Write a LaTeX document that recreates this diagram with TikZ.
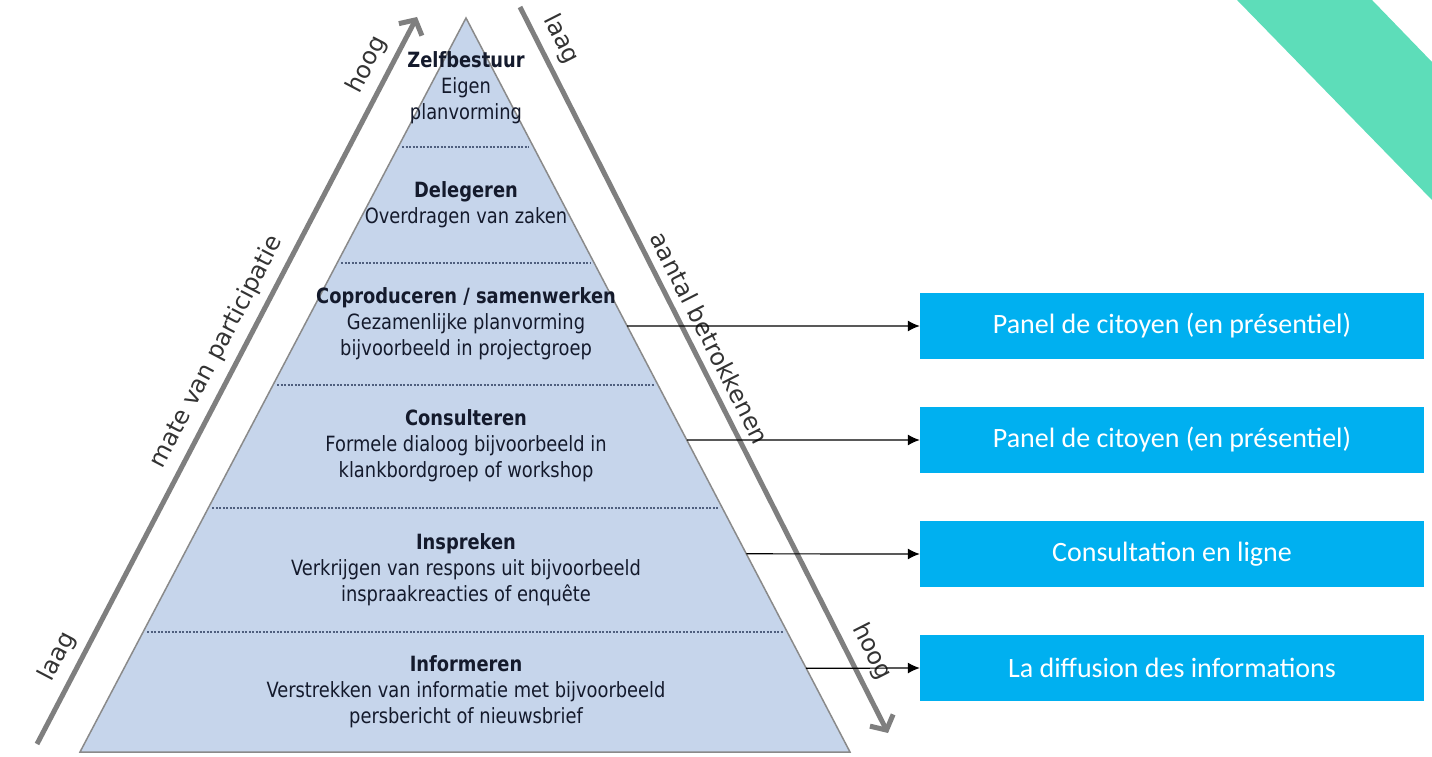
\documentclass[tikz,border=0pt]{standalone}
\usepackage{fontspec}
\setmainfont{DejaVu Sans}
\newfontfamily\pyrfont[FakeStretch=0.85]{DejaVu Sans}
\newfontfamily\boxfont{Carlito}
\usetikzlibrary{arrows.meta,calc,positioning}

\definecolor{pyrfill}{HTML}{C6D5EB}
\definecolor{pyrline}{HTML}{8A8A8A}
\definecolor{sepcol}{HTML}{4F5F7E}
\definecolor{axisgray}{HTML}{7F7F7F}
\definecolor{labelgray}{HTML}{333333}
\definecolor{textnavy}{HTML}{141A2C}
\definecolor{boxblue}{HTML}{00B0F0}
\definecolor{tealband}{HTML}{5DDDB9}

\begin{document}
\begin{tikzpicture}[x=1pt,y=-1pt,
    pyrtext/.style={align=center, text=textnavy, font=\pyrfont\fontsize{21}{26}\selectfont},
    sepline/.style={draw=sepcol, line width=2.5pt, dash pattern=on 2pt off 1.5pt},
    panel/.style={fill=boxblue, text=white, minimum width=504pt, minimum height=66pt, inner sep=0pt, font=\boxfont\fontsize{28}{30}\selectfont},
    axisarrow/.style={draw=axisgray, line width=5pt, -{Straight Barb[length=11pt,width=26pt]}},
    axlabel/.style={sloped, above, text=labelgray, inner sep=8pt, font=\fontsize{24}{28}\selectfont},
    link/.style={-{Latex[length=12pt,width=11pt]}, line width=1.2pt}
]
    \useasboundingbox (0,0) rectangle (1432,757);

    % corner band
    \fill[tealband] (1237,0) -- (1372,0) -- (1432,62) -- (1432,200) -- cycle;

    % pyramid
    \coordinate (apex) at (466,18);
    \coordinate (bl) at (80,752);
    \coordinate (br) at (850,752);
    \filldraw[fill=pyrfill, draw=pyrline, line width=1.5pt] (apex) -- (bl) -- (br) -- cycle;
    \foreach \t in {0.1757,0.3338,0.5,0.6676,0.8365}
        \draw[sepline] ($(apex)!\t!(bl)+(4,0)$) -- ($(apex)!\t!(br)+(-4,0)$);

    \node[pyrtext] (zelf) at (466,88) {\textbf{Zelfbestuur}\\Eigen\\planvorming};
    \node[pyrtext] (deleg) at (466,205) {\textbf{Delegeren}\\Overdragen van zaken};
    \node[pyrtext] (copro) at (466,324) {\textbf{Coproduceren / samenwerken}\\Gezamenlijke planvorming\\bijvoorbeeld in projectgroep};
    \node[pyrtext] (consult) at (466,446) {\textbf{Consulteren}\\Formele dialoog bijvoorbeeld in\\klankbordgroep of workshop};
    \node[pyrtext] (insprek) at (466,570) {\textbf{Inspreken}\\Verkrijgen van respons uit bijvoorbeeld\\inspraakreacties of enquête};
    \node[pyrtext] (inform) at (466,692) {\textbf{Informeren}\\Verstrekken van informatie met bijvoorbeeld\\persbericht of nieuwsbrief};

    % axes
    \coordinate (lbot) at (37,744);
    \coordinate (ltop) at (417,17);
    \coordinate (rtop) at (520,7);
    \coordinate (rbot) at (888,733);
    \draw[axisarrow] (lbot) -- (ltop)
        node[axlabel, pos=0.106] (laagL) {laag}
        node[axlabel, pos=0.525] (mate) {mate van participatie}
        node[axlabel, pos=0.92] (hoogL) {hoog};
    \draw[axisarrow] (rtop) -- (rbot)
        node[axlabel, pos=0.058] (laagR) {laag}
        node[axlabel, pos=0.468] (aantal) {aantal betrokkenen}
        node[axlabel, pos=0.902] (hoogR) {hoog};

    % forms of participation
    \node[panel] (panel1) at (1172,326) {Panel de citoyen (en présentiel)};
    \node[panel] (panel2) at (1172,440) {Panel de citoyen (en présentiel)};
    \node[panel] (online) at (1172,554) {Consultation en ligne};
    \node[panel] (diffusion) at (1172,668) {La diffusion des informations};

    \coordinate (c1) at ($(apex)!0.4196!(br)$);
    \coordinate (c2) at ($(apex)!0.575!(br)$);
    \coordinate (c3) at ($(apex)!0.730!(br)$);
    \coordinate (c4) at ($(apex)!0.886!(br)$);
    \draw[link] (c1) -- (panel1.west);
    \draw[link] (c2) -- (panel2.west);
    \draw[link] (c3) -- (online.west);
    \draw[link] (c4) -- (diffusion.west);
\end{tikzpicture}
\end{document}
